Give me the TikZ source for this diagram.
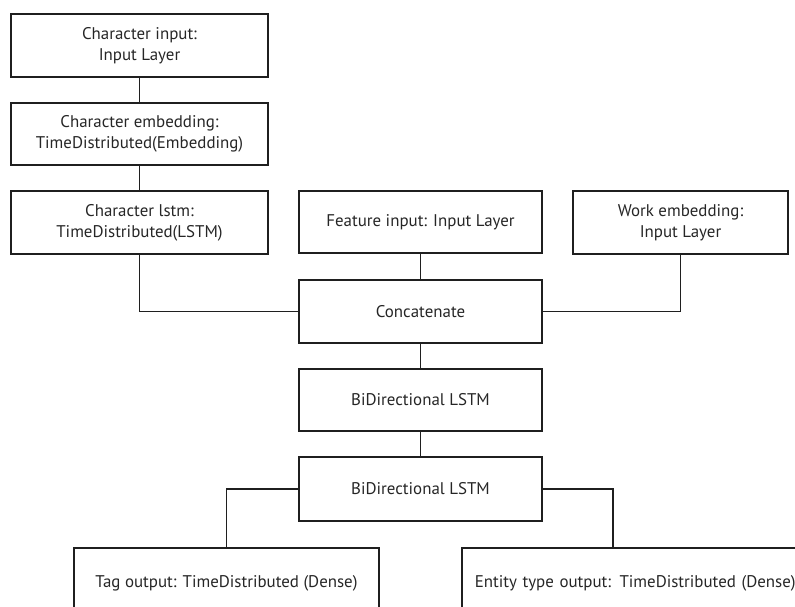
\documentclass[tikz,border=0pt]{standalone}
\usepackage{fontspec}
\setmainfont{PT Sans}
\begin{document}
\begin{tikzpicture}[x=1pt,y=-1pt,
  box/.style={draw=black!88, line width=1.5pt, align=center, inner sep=0pt,
    font=\fontsize{16.9}{21}\selectfont, text=black!85},
  link/.style={draw=black!88, line width=1.5pt}]
\useasboundingbox (0,0) rectangle (795,606);
\clip (0,0) rectangle (795,606);
% left column
\node[box, minimum width=257pt, minimum height=63pt] (b1) at (139.5,45.5) {Character input:\\Input Layer};
\node[box, minimum width=257pt, minimum height=62pt] (b2) at (139.5,134) {Character embedding:\\TimeDistributed(Embedding)};
\node[box, minimum width=257pt, minimum height=63pt] (b3) at (139.5,222.5) {Character lstm:\\TimeDistributed(LSTM)};
% inputs
\node[box, minimum width=243pt, minimum height=62pt] (feat) at (420.5,222) {Feature input: Input Layer};
\node[box, minimum width=215pt, minimum height=63pt] (work) at (680.5,222.5) {Work embedding:\\Input Layer};
% middle column
\node[box, minimum width=243pt, minimum height=63pt] (cat) at (420.5,311.5) {Concatenate};
\node[box, minimum width=243pt, minimum height=62pt] (bi1) at (420.5,400) {BiDirectional LSTM};
\node[box, minimum width=243pt, minimum height=64pt] (bi2) at (420.5,489) {BiDirectional LSTM};
% outputs
\node[box, minimum width=305pt, minimum height=72pt, anchor=north] (tag) at (226.5,547) {Tag output: TimeDistributed (Dense)};
\node[box, minimum width=380pt, minimum height=72pt, anchor=north west, text width=367pt, align=left, inner xsep=13pt] (ent) at (461,547) {Entity type output: TimeDistributed (Dense)};
\coordinate (ej) at (613,547);
% connectors
\draw[link] (b1) -- (b2);
\draw[link] (b2) -- (b3);
\draw[link] (b3.south) |- (cat.west);
\draw[link] (feat) -- (cat);
\draw[link] (work.south) |- (cat.east);
\draw[link] (cat) -- (bi1);
\draw[link] (bi1) -- (bi2);
\draw[link] (bi2.west) -| (tag.north);
\draw[link] (bi2.east) -| (ej);
\end{tikzpicture}
\end{document}
